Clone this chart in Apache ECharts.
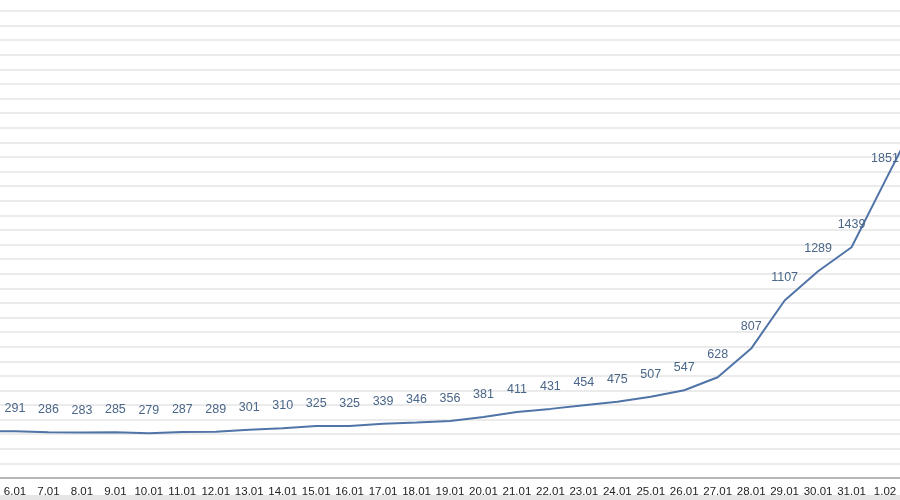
<!DOCTYPE html>
<html>
<head>
<meta charset="utf-8">
<script src="https://cdn.jsdelivr.net/npm/echarts@6/dist/echarts.min.js"></script>
<style>
html,body{margin:0;padding:0;background:#fff;}
#c{width:900px;height:500px;}
</style>
</head>
<body>
<div id="c"></div>
<script>
// Categories (first and last are just outside the visible crop)
const categories = ['5.01','6.01','7.01','8.01','9.01','10.01','11.01','12.01','13.01','14.01','15.01','16.01','17.01','18.01','19.01','20.01','21.01','22.01','23.01','24.01','25.01','26.01','27.01','28.01','29.01','30.01','31.01','1.02','2.02'];
const values = [293,291,286,283,285,279,287,289,301,310,325,325,339,346,356,381,411,431,454,475,507,547,628,807,1107,1289,1439,1851,2260];
const hiddenLabel = ['5.01','2.02'];

const yMin = 0, yInterval = 91, yMax = 91 * 32;

const seriesData = values.map((v, i) => hiddenLabel.includes(categories[i])
  ? { value: v, label: { show: false } }
  : v);

const catW = 870 / 26;
const gridLeft = 15 - catW * 1.5;

const chart = echarts.init(document.getElementById('c'));
chart.setOption({
  animation: false,
  backgroundColor: '#ffffff',
  grid: { left: gridLeft, width: catW * categories.length, top: 11, bottom: 22, containLabel: false, outerBoundsMode: 'none' },
  xAxis: {
    type: 'category',
    data: categories,
    boundaryGap: true,
    axisLine: { show: true, lineStyle: { color: '#a6a6a6', width: 1.5 } },
    axisTick: { show: false },
    axisLabel: { color: '#222222', fontSize: 11.5, fontFamily: 'Liberation Sans, Arial, sans-serif', margin: 8, interval: 0 },
    splitLine: { show: false }
  },
  yAxis: {
    type: 'value',
    min: yMin, max: yMax, interval: yInterval,
    axisLine: { show: false },
    axisTick: { show: false },
    axisLabel: { show: false },
    splitLine: { show: true, lineStyle: { color: '#e4e4e4', width: 1.5 } }
  },
  graphic: [{
    type: 'rect', left: 0, top: 495, shape: { width: 900, height: 5 },
    style: { fill: '#e6e6e6' }, z: -1
  }],
  series: [{
    type: 'line',
    data: seriesData,
    symbol: 'circle',
    symbolSize: 2,
    showSymbol: true,
    showAllSymbol: true,
    itemStyle: { color: 'rgba(80,116,168,0)', borderWidth: 0 },
    smooth: false,
    lineStyle: { color: '#5074a8', width: 2 },
    label: {
      show: true,
      position: 'top',
      distance: 15,
      color: '#4a6688',
      fontSize: 12.5,
      fontFamily: 'Liberation Sans, Arial, sans-serif'
    }
  }]
});
</script>
</body>
</html>
